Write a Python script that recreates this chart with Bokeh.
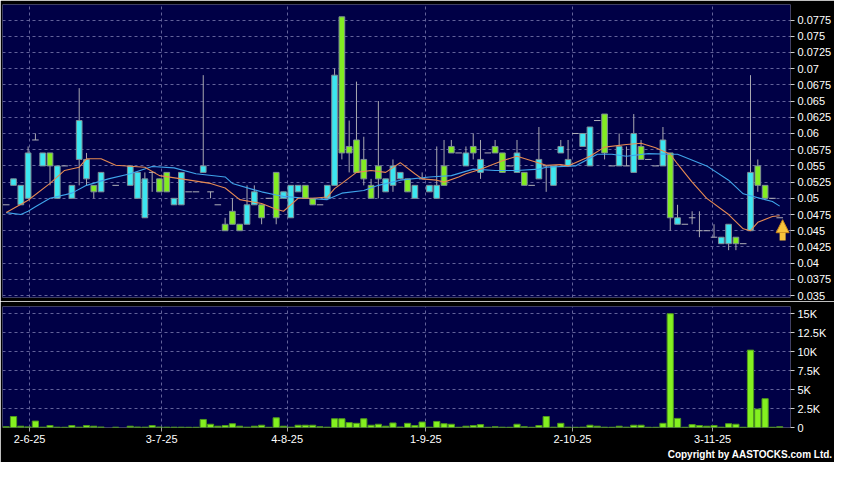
from bokeh.plotting import figure
from bokeh.models import (Range1d, FixedTicker, ColumnDataSource, Title, Arrow,
                          NormalHead, NumeralTickFormatter)
from bokeh.layouts import column
from bokeh.embed import file_html
from bokeh.resources import INLINE

N = None
# ---- daily OHLC (index = trading-day slot on the chart) ----
opens = [.049, .052, .049, .050, .059, .055, .057, .050, .055, .050, .056, .053, .052, .051, N, .052, N,
         .052, .050, .047, .054, .053, .054, .049, .049, .051, .051, .054, .051, .049, .046, .048, .046,
         .046, .049, .049, .050, .054, .050, .047, .051, .052, .050, .049, .050, .052, .078, .058, .059,
         .056, .052, .055, .051, .052, .053, .053, .050, .053, .051, .050, .055, .058, .057, .055, .058,
         .054, .057, .058, .057, .055, .054, .054, .052, .053, .055, .052, .057, .055, .060, .058, .055,
         .062, .063, .055, .055, .055, .054, .058, .056, .055, .055, .057, .046, .046, .047, .045, .045,
         .044, .043, .043, .044, .043, .045, .055, .052, .050, .047]
highs = [.049, .053, .052, .058, .060, .057, .057, .055, .055, .052, .067, .057, .052, .054, N, .052, N,
         .055, .054, .054, .054, .053, .054, .050, .054, .051, .051, .069, .051, .049, .047, .050, .046,
         .052, .052, .049, .050, .054, .051, .052, .052, .052, .050, .049, .052, .070, .078, .062, .068,
         .0595, .053, .065, .053, .056, .054, .053, .052, .054, .052, .058, .059, .059, .057, .058, .060,
         .059, .057, .059, .057, .055, .059, .054, .052, .061, .055, .055, .059, .059, .060, .060, .061,
         .062, .063, .055, .060, .058, .063, .059, .056, .055, .061, .057, .049, .046, .048, .048, .045,
         .046, .044, .046, .044, .043, .069, .056, .052, .050, .047]
lows = [.049, .052, .049, .050, .059, .055, .052, .050, .055, .050, .052, .052, .050, .051, N, .052, N,
        .052, .050, .047, .051, .051, .051, .049, .049, .051, .051, .054, .050, .049, .045, .046, .045,
        .046, .049, .046, .050, .046, .050, .047, .051, .050, .049, .049, .050, .052, .056, .054, .054,
        .052, .050, .050, .051, .051, .053, .051, .050, .053, .051, .050, .052, .057, .057, .055, .056,
        .053, .057, .057, .054, .055, .054, .052, .052, .053, .051, .052, .057, .055, .060, .058, .055,
        .062, .056, .055, .055, .055, .054, .056, .056, .055, .055, .045, .046, .046, .046, .044, .045,
        .044, .043, .042, .042, .043, .045, .051, .050, .050, .047]
closes = [.049, .053, .052, .057, .059, .057, .055, .055, .055, .052, .062, .056, .051, .054, N, .052, N,
          .055, .054, .053, .054, .051, .051, .050, .054, .051, .051, .055, .051, .049, .045, .046, .045,
          .049, .051, .047, .050, .047, .051, .052, .052, .050, .049, .049, .052, .069, .057, .057, .054,
          .053, .050, .053, .053, .055, .054, .051, .052, .053, .052, .052, .052, .057, .057, .057, .057,
          .056, .057, .057, .054, .055, .057, .052, .052, .056, .055, .055, .058, .056, .060, .060, .061,
          .062, .057, .055, .058, .055, .060, .056, .056, .055, .059, .047, .047, .046, .047, .045, .045,
          .044, .044, .046, .043, .043, .054, .052, .050, .050, .047]
volumes = [100, 1450, 170, 80, 850, 40, 250, 40, 30, 250, 40, 250, 170, 60, N, 40, N,
           170, 60, 40, 250, 60, 40, 40, 40, 30, 30, 1060, 430, 170, 250, 500, 170,
           40, 170, 300, 30, 1280, 170, 40, 300, 300, 300, 100, 40, 1150, 1150, 640, 550,
           1150, 300, 430, 170, 600, 60, 550, 250, 720, 40, 800, 500, 430, 30, 170, 250,
           380, 30, 100, 40, 30, 430, 100, 30, 250, 1450, 40, 550, 40, 30, 40, 300,
           170, 40, 30, 170, 40, 300, 300, 30, 30, 550, 15000, 1200, 30, 380, 250, 170,
           250, 40, 500, 430, 30, 10200, 2430, 3800, 30, 100]

# ---- moving averages (slot, value) ----
ma_short_idx = [0, 3, 6, 8, 10, 11, 13, 15, 19, 21, 24, 28, 30, 32, 35, 37, 38, 40, 42, 44, 45, 46, 48,
                50, 52, 54, 56, 57, 59, 60, 62, 63, 65, 68, 70, 72, 74, 76, 77, 80, 82, 85, 87, 89,
                91, 92, 94, 96, 99, 101, 102, 103, 105, 106]
ma_short_val = [.0478, .0497, .0523, .0543, .0548, .0561, .0561, .0551, .0548, .0535, .0530, .0523,
                .0516, .0498, .0492, .0483, .0480, .0500, .0500, .0502, .0515, .0523, .0540, .0543,
                .0540, .0555, .0538, .0530, .0528, .0525, .0533, .0538, .0545, .0558, .0565, .0558,
                .0551, .0552, .0550, .0565, .0579, .0583, .0585, .0578, .0568, .0553, .0525, .0500,
                .0475, .0453, .0450, .0463, .0472, .0473]
ma_long_idx = [0, 2, 3, 4, 6, 9, 11, 14, 17, 20, 23, 26, 30, 31, 34, 35, 37, 38, 41, 44, 46, 49, 51,
               54, 58, 61, 64, 67, 70, 73, 74, 78, 81, 83, 85, 88, 91, 92, 96, 99, 101, 104, 105, 106]
ma_long_val = [.0478, .0475, .0480, .0487, .0500, .0508, .0520, .0530, .0538, .0549, .0547, .0538,
               .0533, .0523, .0513, .0510, .0505, .0503, .0500, .0498, .0508, .0512, .0520, .0528,
               .0533, .0535, .0545, .0543, .0543, .0545, .0548, .0550, .0568, .0568, .0565, .0569,
               .0568, .0568, .0550, .0528, .0507, .0498, .0495, .0488]

# ---- axes ----
date_ticks = [3.2, 21.3, 38.5, 57.5, 77.6, 96.8]
date_labels = ["2-6-25", "3-7-25", "4-8-25", "1-9-25", "2-10-25", "3-11-25"]
price_ticks = [0.035, 0.0375, 0.04, 0.0425, 0.045, 0.0475, 0.05, 0.0525, 0.055, 0.0575, 0.06,
               0.0625, 0.065, 0.0675, 0.07, 0.0725, 0.075, 0.0775]
vol_ticks = [0, 2500, 5000, 7500, 10000, 12500, 15000]
vol_labels = ["0", "2.5K", "5K", "7.5K", "10K", "12.5K", "15K"]

NAVY = "#000046"
GRID = "#62629a"
CYAN = "#3ce6f0"
GREEN = "#82ec22"
FONT = "Liberation Sans"

up = dict(x=[], top=[], bottom=[])
dn = dict(x=[], top=[], bottom=[])
dj = dict(x0=[], x1=[], y=[])
wk = dict(x=[], hi=[], lo=[])
vb = dict(x=[], v=[])
for i, (o, h, l, c, v) in enumerate(zip(opens, highs, lows, closes, volumes)):
    if o is None:
        continue
    wk["x"].append(i); wk["hi"].append(h); wk["lo"].append(l)
    if c > o:
        up["x"].append(i); up["top"].append(c); up["bottom"].append(o)
    elif c < o:
        dn["x"].append(i); dn["top"].append(o); dn["bottom"].append(c)
    else:
        dj["x0"].append(i - 0.45); dj["x1"].append(i + 0.45); dj["y"].append(c)
    vb["x"].append(i); vb["v"].append(v)

last_i = len(closes) - 1
xr = Range1d(-0.51, last_i + 1.48)


def style_common(p):
    p.background_fill_color = NAVY
    p.border_fill_color = "black"
    p.outline_line_color = None
    for g in (p.xgrid[0], p.ygrid[0]):
        g.grid_line_color = GRID
        g.grid_line_dash = "3 3"
        g.grid_line_width = 1
    p.xgrid.ticker = FixedTicker(ticks=date_ticks)
    ax = p.yaxis[0]
    ax.axis_line_color = None
    ax.major_tick_line_color = "#d0d0d0"
    ax.major_tick_out = 4
    ax.major_tick_in = 0
    ax.minor_tick_line_color = None
    ax.major_label_text_color = "white"
    ax.major_label_text_font = FONT
    ax.major_label_text_font_size = "11px"
    ax.major_label_standoff = 3


# ---------- price panel ----------
p1 = figure(width=834, height=301, x_range=xr, y_range=Range1d(0.0347, 0.0799),
            y_axis_location="right", toolbar_location=None, output_backend="svg",
            min_border_left=2, min_border_right=44, min_border_top=4, min_border_bottom=4)
style_common(p1)
p1.xaxis.visible = False
p1.yaxis.ticker = FixedTicker(ticks=price_ticks)
p1.yaxis.formatter = NumeralTickFormatter(format="0.0[000]")

p1.segment(x0="x", y0="hi", x1="x", y1="lo", source=ColumnDataSource(wk),
           line_color="#a8a8b0", line_width=1)
p1.segment(x0="x0", y0="y", x1="x1", y1="y", source=ColumnDataSource(dj),
           line_color="#b0b0b8", line_width=1)
p1.vbar(x="x", top="top", bottom="bottom", width=0.78, source=ColumnDataSource(up),
        fill_color=CYAN, line_color="#7f8f96", line_width=1)
p1.vbar(x="x", top="top", bottom="bottom", width=0.78, source=ColumnDataSource(dn),
        fill_color=GREEN, line_color="#7f8f96", line_width=1)
p1.line(ma_long_idx, ma_long_val, line_color="#3fa4ea", line_width=1.1)
p1.line(ma_short_idx, ma_short_val, line_color="#e68a52", line_width=1.1)

p1.add_layout(Arrow(end=NormalHead(size=13, fill_color="#f7c23c", line_color="#c8861c", line_width=1),
                    x_start=last_i + 0.4, y_start=closes[-1] - 0.0035,
                    x_end=last_i + 0.4, y_end=closes[-1] - 0.0003,
                    line_color="#f7c23c", line_width=6, line_cap="butt"))

# ---------- volume panel ----------
p2 = figure(width=834, height=161, x_range=xr, y_range=Range1d(0, 15950),
            y_axis_location="right", toolbar_location=None, output_backend="svg",
            min_border_left=2, min_border_right=44, min_border_top=5, min_border_bottom=35)
style_common(p2)
p2.yaxis.ticker = FixedTicker(ticks=vol_ticks)
p2.yaxis.major_label_overrides = dict(zip(vol_ticks, vol_labels))
p2.vbar(x="x", top="v", bottom=0, width=0.85, source=ColumnDataSource(vb),
        fill_color="#84f020", line_color="#4f9a1c", line_width=1)

xa = p2.xaxis[0]
xa.ticker = FixedTicker(ticks=date_ticks)
xa.major_label_overrides = dict(zip(date_ticks, date_labels))
xa.axis_line_color = None
xa.major_tick_line_color = "#a0a0a0"
xa.major_tick_out = 4
xa.major_tick_in = 0
xa.minor_tick_line_color = None
xa.major_label_text_color = "white"
xa.major_label_text_font = FONT
xa.major_label_text_font_size = "11px"
xa.major_label_standoff = 3

p2.add_layout(Title(text="Copyright by AASTOCKS.com Ltd.", align="right", text_color="white",
                    text_font=FONT, text_font_size="10px", text_font_style="bold",
                    offset=-42, standoff=2), "below")

layout = column(p1, p2, spacing=0)
open("out.html", "w").write(file_html(layout, INLINE))
